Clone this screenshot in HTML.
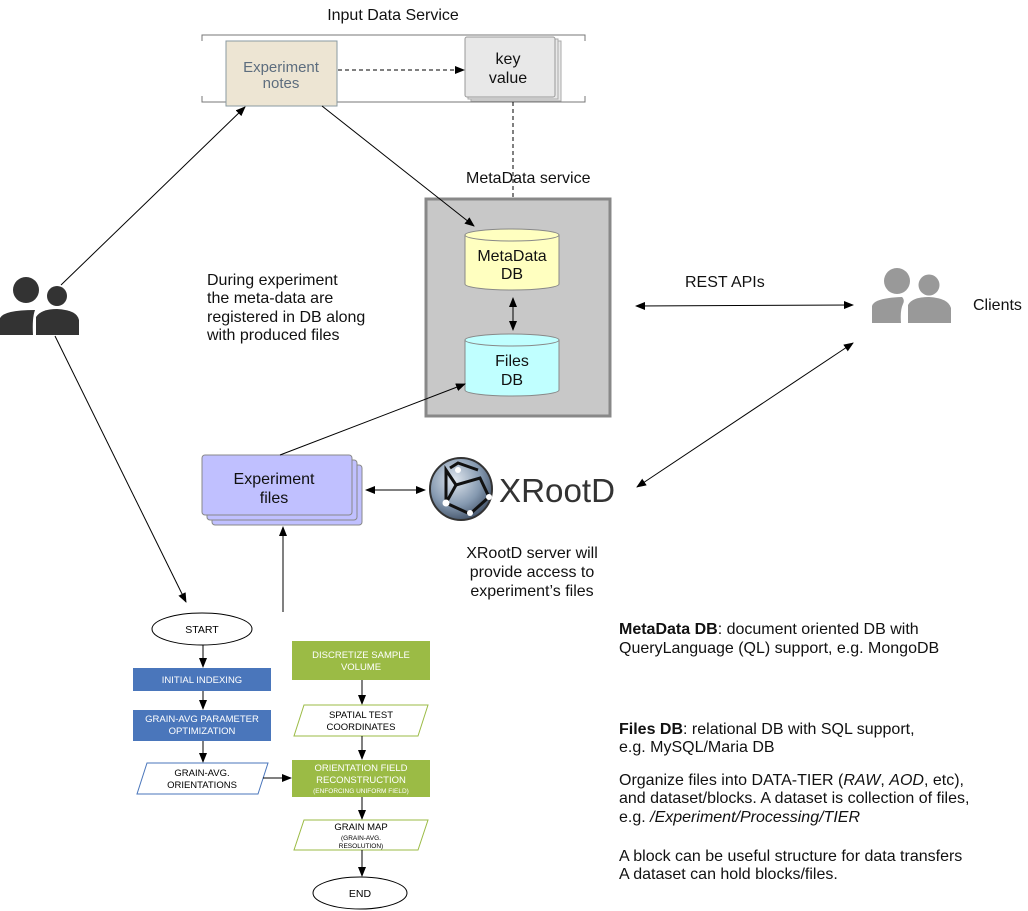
<!DOCTYPE html>
<html><head><meta charset="utf-8"><style>
html,body{margin:0;padding:0;background:#fff;}
svg{display:block;font-family:"Liberation Sans",Arial,sans-serif;}
</style></head><body>
<svg width="1028" height="911" viewBox="0 0 1028 911" xmlns="http://www.w3.org/2000/svg">
<defs>
<marker id="a" markerWidth="10" markerHeight="8" refX="9" refY="4" orient="auto" markerUnits="userSpaceOnUse"><path d="M0,0 L10,4 L0,8 Z" fill="#000"/></marker>
<marker id="s" markerWidth="10" markerHeight="8" refX="1" refY="4" orient="auto" markerUnits="userSpaceOnUse"><path d="M10,0 L0,4 L10,8 Z" fill="#000"/></marker>
<radialGradient id="g" cx="40%" cy="35%" r="70%"><stop offset="0" stop-color="#dfe6ee"/><stop offset="0.6" stop-color="#8599b0"/><stop offset="1" stop-color="#3f4f65"/></radialGradient>
</defs>

<!-- Input data service -->
<text x="393" y="20" font-size="16" text-anchor="middle" fill="#111">Input Data Service</text>
<path d="M202,41 V35 H585 V41 M202,96 V102 H585 V96" fill="none" stroke="#777" stroke-width="1"/>
<rect x="226" y="41" width="111" height="65" fill="#ede5d3" stroke="#8a9aa0"/>
<text x="281" y="72" font-size="15" text-anchor="middle" fill="#5d6d7e">Experiment</text>
<text x="281" y="88" font-size="15" text-anchor="middle" fill="#5d6d7e">notes</text>
<rect x="471" y="41" width="90" height="60" fill="#e8e8e8" stroke="#aaa"/>
<rect x="468" y="39" width="90" height="60" fill="#e8e8e8" stroke="#aaa"/>
<rect x="465" y="37" width="90" height="60" rx="2" fill="#e8e8e8" stroke="#999"/>
<text x="508" y="64" font-size="16" text-anchor="middle" fill="#111">key</text>
<text x="508" y="83" font-size="16" text-anchor="middle" fill="#111">value</text>
<line x1="338" y1="70" x2="464" y2="70" stroke="#000" stroke-dasharray="4,3" marker-end="url(#a)"/>
<line x1="513" y1="102" x2="513" y2="225" stroke="#000" stroke-dasharray="4,3" marker-end="url(#a)"/>

<!-- MetaData service -->
<text x="466" y="183" font-size="16" fill="#111">MetaData service</text>
<rect x="426" y="199" width="184" height="217" fill="#c8c8c8" stroke="#888" stroke-width="3"/>
<path d="M465,235 V284 A47,6 0 0 0 559,284 V235" fill="#ffffc0" stroke="#888"/>
<ellipse cx="512" cy="235" rx="47" ry="6" fill="#ffffc0" stroke="#888"/>
<text x="512" y="261" font-size="16" text-anchor="middle" fill="#111">MetaData</text>
<text x="512" y="279" font-size="16" text-anchor="middle" fill="#111">DB</text>
<path d="M465,340 V390 A47,6 0 0 0 559,390 V340" fill="#c0ffff" stroke="#888"/>
<ellipse cx="512" cy="340" rx="47" ry="6" fill="#c0ffff" stroke="#888"/>
<text x="512" y="366" font-size="16" text-anchor="middle" fill="#111">Files</text>
<text x="512" y="385" font-size="16" text-anchor="middle" fill="#111">DB</text>
<line x1="513" y1="298" x2="513" y2="330" stroke="#000" marker-start="url(#s)" marker-end="url(#a)"/>
<line x1="322" y1="106" x2="474" y2="226" stroke="#000" marker-end="url(#a)"/>

<text font-size="16" fill="#111"><tspan x="207" y="285">During experiment</tspan><tspan x="207" y="303">the meta-data are</tspan><tspan x="207" y="322">registered in DB along</tspan><tspan x="207" y="340">with produced files</tspan></text>

<!-- REST/Clients -->
<text x="685" y="287" font-size="16" fill="#111">REST APIs</text>
<line x1="636" y1="306" x2="853" y2="305" stroke="#000" marker-start="url(#s)" marker-end="url(#a)"/>
<g fill="#999">
<circle cx="897" cy="281" r="13"/><circle cx="929" cy="285" r="10.5"/>
<path d="M872,323 V306 Q874,298 902,297 Q905,300 903,304 Q900,310 901,323 Z"/>
<path d="M908,323 V305 Q912,297 929,297 Q948,298 951,308 V323 Z"/>
</g>
<text x="973" y="310" font-size="16" fill="#111">Clients</text>
<line x1="637" y1="487" x2="853" y2="343" stroke="#000" marker-start="url(#s)" marker-end="url(#a)"/>

<!-- Users -->
<g fill="#333">
<circle cx="26" cy="290" r="13"/><circle cx="57" cy="296" r="10"/>
<path d="M0,335 V318 Q4,310 35,310 Q32,318 33,335 Z"/>
<path d="M36,335 V317 Q41,309 57,309 Q77,310 79,320 V335 Z"/>
</g>
<line x1="61" y1="285" x2="245" y2="107" stroke="#000" marker-end="url(#a)"/>
<line x1="55" y1="336" x2="186" y2="602" stroke="#000" marker-end="url(#a)"/>

<!-- Experiment files -->
<rect x="212" y="465" width="150" height="60" rx="3" fill="#c0c0ff" stroke="#888"/>
<rect x="207" y="460" width="150" height="60" rx="3" fill="#c0c0ff" stroke="#888"/>
<rect x="202" y="455" width="150" height="60" rx="3" fill="#c0c0ff" stroke="#888"/>
<text x="274" y="484" font-size="16" text-anchor="middle" fill="#111">Experiment</text>
<text x="274" y="503" font-size="16" text-anchor="middle" fill="#111">files</text>
<line x1="280" y1="455" x2="465" y2="384" stroke="#000" marker-end="url(#a)"/>
<line x1="366" y1="490" x2="425" y2="490" stroke="#000" marker-start="url(#s)" marker-end="url(#a)"/>
<line x1="283" y1="612" x2="283" y2="527" stroke="#000" marker-end="url(#a)"/>

<!-- XRootD logo -->
<circle cx="461" cy="489" r="31" fill="url(#g)" stroke="#333" stroke-width="2"/>
<g stroke="#111" stroke-width="3" fill="none">
<path d="M446,470 L456,485 L480,478 L489,497 L470,514 L446,503 Z"/>
<path d="M456,485 L446,503 M450,468 L458,463 L478,470"/>
</g>
<g fill="#fff"><circle cx="446" cy="503" r="3.5"/><circle cx="458" cy="470" r="3"/><circle cx="489" cy="497" r="3"/><circle cx="470" cy="513" r="3"/></g>
<text x="499" y="502" font-size="33" fill="#333" textLength="116" lengthAdjust="spacingAndGlyphs">XRootD</text>

<text font-size="16" fill="#111" text-anchor="middle"><tspan x="532" y="558">XRootD server will</tspan><tspan x="532" y="577">provide access to</tspan><tspan x="532" y="596">experiment’s files</tspan></text>

<!-- right text -->
<text font-size="16" fill="#111">
<tspan x="619" y="634"><tspan font-weight="bold">MetaData DB</tspan>: document oriented DB with</tspan>
<tspan x="619" y="653">QueryLanguage (QL) support, e.g. MongoDB</tspan>
<tspan x="619" y="734"><tspan font-weight="bold">Files DB</tspan>: relational DB with SQL support,</tspan>
<tspan x="619" y="752">e.g. MySQL/Maria DB</tspan>
<tspan x="619" y="785">Organize files into DATA-TIER (<tspan font-style="italic">RAW</tspan>, <tspan font-style="italic">AOD</tspan>, etc),</tspan>
<tspan x="619" y="803">and dataset/blocks. A dataset is collection of files,</tspan>
<tspan x="619" y="822">e.g. <tspan font-style="italic">/Experiment/Processing/TIER</tspan></tspan>
<tspan x="619" y="861">A block can be useful structure for data transfers</tspan>
<tspan x="619" y="879">A dataset can hold blocks/files.</tspan>
</text>

<!-- flowchart -->
<g font-size="9.5" text-anchor="middle">
<ellipse cx="202" cy="629" rx="50" ry="16" fill="#fff" stroke="#000"/>
<text x="202" y="633" font-size="10.5" fill="#000">START</text>
<line x1="203" y1="645" x2="203" y2="667" stroke="#000" marker-end="url(#a)"/>
<rect x="133" y="668" width="138" height="23" fill="#4a76bb"/>
<text x="202" y="683" fill="#fff">INITIAL INDEXING</text>
<line x1="203" y1="691" x2="203" y2="709" stroke="#000" marker-end="url(#a)"/>
<rect x="133" y="710" width="138" height="31" fill="#4a76bb"/>
<text x="202" y="722" fill="#fff">GRAIN-AVG PARAMETER</text>
<text x="202" y="734" fill="#fff">OPTIMIZATION</text>
<line x1="203" y1="741" x2="203" y2="762" stroke="#000" marker-end="url(#a)"/>
<path d="M147,763 H268 L258,794 H137 Z" fill="#fff" stroke="#4a76bb"/>
<text x="202" y="776" fill="#000">GRAIN-AVG.</text>
<text x="202" y="788" fill="#000">ORIENTATIONS</text>
<line x1="263" y1="778" x2="291" y2="778" stroke="#000" marker-end="url(#a)"/>

<rect x="292" y="641" width="138" height="39" fill="#9bbb45"/>
<text x="361" y="658" fill="#fff">DISCRETIZE SAMPLE</text>
<text x="361" y="670" fill="#fff">VOLUME</text>
<line x1="362" y1="680" x2="362" y2="704" stroke="#000" marker-end="url(#a)"/>
<path d="M304,705 H428 L418,736 H294 Z" fill="#fff" stroke="#9bbb45"/>
<text x="361" y="718" fill="#000">SPATIAL TEST</text>
<text x="361" y="730" fill="#000">COORDINATES</text>
<line x1="362" y1="736" x2="362" y2="759" stroke="#000" marker-end="url(#a)"/>
<rect x="292" y="760" width="138" height="37" fill="#9bbb45"/>
<text x="361" y="771" fill="#fff">ORIENTATION FIELD</text>
<text x="361" y="783" fill="#fff">RECONSTRUCTION</text>
<text x="361" y="793" font-size="6.5" fill="#fff">(ENFORCING UNIFORM FIELD)</text>
<line x1="362" y1="797" x2="362" y2="819" stroke="#000" marker-end="url(#a)"/>
<path d="M304,820 H428 L418,850 H294 Z" fill="#fff" stroke="#9bbb45"/>
<text x="361" y="830" fill="#000">GRAIN MAP</text>
<text x="361" y="840" font-size="6.5" fill="#000">(GRAIN-AVG.</text>
<text x="361" y="848" font-size="6.5" fill="#000">RESOLUTION)</text>
<line x1="362" y1="850" x2="362" y2="876" stroke="#000" marker-end="url(#a)"/>
<ellipse cx="360" cy="893" rx="47" ry="16" fill="#fff" stroke="#000"/>
<text x="360" y="897" font-size="10.5" fill="#000">END</text>
</g>
</svg>
</body></html>
